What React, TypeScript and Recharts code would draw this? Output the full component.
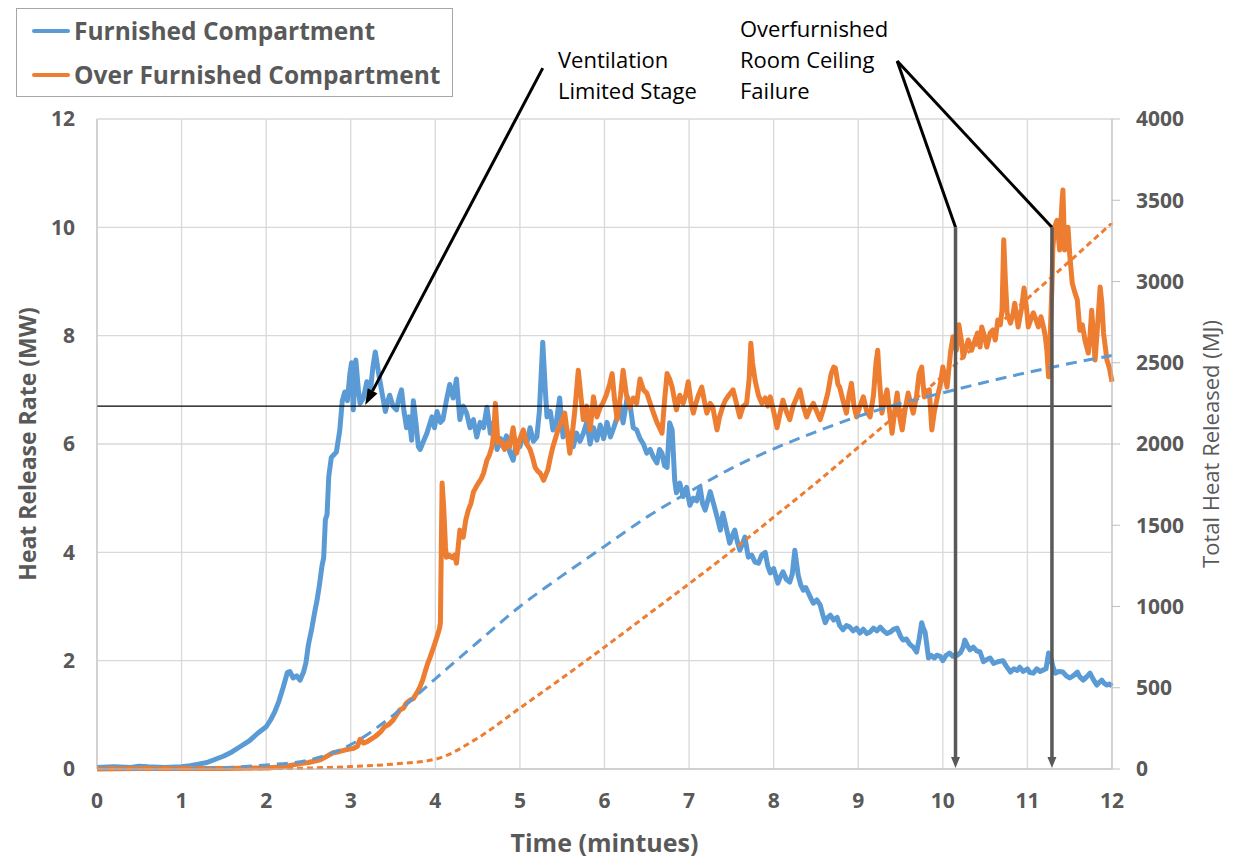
import React from 'react';
import {
  ComposedChart,
  Line,
  XAxis,
  YAxis,
  CartesianGrid,
  ReferenceLine,
  Label,
} from 'recharts';

const BLUE = '#5B9BD5';
const ORANGE = '#ED7D31';
const TEXT = '#595959';
const GRID = '#D9D9D9';
const AXIS = '#BFBFBF';
const FONT = '"Open Sans", "Liberation Sans", sans-serif';

const minuteTicks = [0, 1, 2, 3, 4, 5, 6, 7, 8, 9, 10, 11, 12];
const hrrTicks = [0, 2, 4, 6, 8, 10, 12];
const mjTicks = [0, 500, 1000, 1500, 2000, 2500, 3000, 3500, 4000];

const legendItems = [
  { name: 'Furnished Compartment', color: BLUE },
  { name: 'Over Furnished Compartment', color: ORANGE },
];

// heat release rate, [minutes, MW]
const furnishedHrr: [number, number][] = [
  [0, 0.03], [0.2, 0.04], [0.4, 0.03], [0.5, 0.05], [0.6, 0.04], [0.8, 0.03], [1.0, 0.04], [1.1, 0.06],
  [1.2, 0.09], [1.3, 0.12], [1.4, 0.18], [1.5, 0.24], [1.6, 0.32], [1.7, 0.42], [1.8, 0.52], [1.9, 0.66],
  [2.0, 0.78], [2.05, 0.9], [2.1, 1.05], [2.15, 1.25], [2.2, 1.5], [2.25, 1.78], [2.28, 1.8], [2.32, 1.68],
  [2.36, 1.72], [2.4, 1.64], [2.44, 1.78], [2.47, 1.96], [2.5, 2.3], [2.54, 2.6], [2.58, 2.95], [2.6, 3.1],
  [2.63, 3.4], [2.66, 3.75], [2.68, 3.9], [2.7, 4.6], [2.72, 4.7], [2.74, 5.4], [2.77, 5.75], [2.8, 5.8],
  [2.83, 5.85], [2.87, 6.25], [2.9, 6.8], [2.93, 6.96], [2.96, 6.8], [2.99, 7.3], [3.01, 7.5], [3.03, 6.63],
  [3.06, 7.55], [3.09, 7.0], [3.11, 6.75], [3.15, 6.85], [3.19, 7.15], [3.23, 6.94], [3.26, 7.4], [3.29, 7.7],
  [3.33, 7.3], [3.37, 6.94], [3.41, 6.6], [3.44, 6.8], [3.46, 6.9], [3.5, 6.7], [3.54, 6.63], [3.57, 6.85],
  [3.6, 7.0], [3.63, 6.6], [3.66, 6.3], [3.69, 6.5], [3.72, 6.07], [3.74, 6.8], [3.77, 6.4], [3.8, 5.95],
  [3.82, 5.9], [3.86, 6.05], [3.9, 6.2], [3.93, 6.35], [3.96, 6.5], [3.99, 6.3], [4.02, 6.6], [4.06, 6.4],
  [4.09, 6.45], [4.13, 6.8], [4.17, 7.1], [4.21, 6.85], [4.25, 7.2], [4.29, 6.45], [4.33, 6.7], [4.37, 6.57],
  [4.41, 6.3], [4.45, 6.45], [4.49, 6.13], [4.53, 6.4], [4.57, 6.3], [4.61, 6.68], [4.65, 6.2], [4.69, 6.4],
  [4.73, 5.9], [4.77, 6.1], [4.8, 5.95], [4.84, 6.15], [4.88, 5.85], [4.92, 5.7], [4.96, 6.05], [5.0, 5.95],
  [5.04, 6.2], [5.08, 6.0], [5.12, 6.3], [5.16, 6.05], [5.2, 6.13], [5.23, 6.6], [5.27, 7.88], [5.3, 7.0],
  [5.32, 6.5], [5.36, 6.6], [5.39, 6.26], [5.43, 6.4], [5.47, 6.85], [5.51, 6.13], [5.55, 6.3], [5.59, 6.0],
  [5.63, 5.95], [5.67, 6.2], [5.71, 6.05], [5.75, 6.2], [5.79, 6.4], [5.83, 6.0], [5.87, 6.3], [5.91, 6.07],
  [5.95, 6.35], [5.99, 6.1], [6.03, 6.4], [6.07, 6.13], [6.11, 6.3], [6.15, 6.5], [6.18, 6.75], [6.22, 6.39],
  [6.27, 6.87], [6.3, 6.75], [6.34, 6.3], [6.38, 6.26], [6.42, 6.1], [6.46, 6.0], [6.5, 5.83], [6.54, 5.9],
  [6.58, 5.75], [6.62, 5.65], [6.65, 5.9], [6.68, 5.83], [6.71, 5.6], [6.74, 5.57], [6.77, 6.39], [6.8, 6.26],
  [6.83, 5.33], [6.85, 5.1], [6.89, 5.28], [6.93, 5.03], [6.97, 5.2], [7.01, 4.87], [7.05, 5.0], [7.09, 4.95],
  [7.13, 5.2], [7.16, 4.9], [7.19, 4.78], [7.22, 4.95], [7.25, 5.12], [7.28, 4.95], [7.31, 4.78], [7.34, 4.6],
  [7.37, 4.41], [7.4, 4.72], [7.44, 4.45], [7.48, 4.17], [7.51, 4.3], [7.54, 4.41], [7.57, 4.2], [7.6, 4.04],
  [7.63, 4.15], [7.66, 4.28], [7.7, 3.91], [7.74, 3.95], [7.78, 3.82], [7.82, 3.8], [7.86, 3.95], [7.9, 4.0],
  [7.93, 3.75], [7.96, 3.62], [8.0, 3.7], [8.05, 3.43], [8.08, 3.55], [8.11, 3.64], [8.15, 3.5], [8.19, 3.45],
  [8.22, 3.6], [8.25, 4.04], [8.29, 3.58], [8.32, 3.4], [8.35, 3.3], [8.38, 3.35], [8.41, 3.25], [8.44, 3.15],
  [8.47, 3.06], [8.51, 3.12], [8.55, 3.03], [8.58, 2.85], [8.61, 2.7], [8.64, 2.8], [8.67, 2.84], [8.71, 2.75],
  [8.75, 2.8], [8.78, 2.65], [8.82, 2.57], [8.86, 2.65], [8.9, 2.62], [8.94, 2.55], [8.98, 2.6], [9.02, 2.51],
  [9.06, 2.58], [9.1, 2.5], [9.14, 2.53], [9.18, 2.6], [9.22, 2.55], [9.26, 2.62], [9.3, 2.55], [9.34, 2.5],
  [9.38, 2.53], [9.42, 2.58], [9.46, 2.6], [9.5, 2.45], [9.53, 2.38], [9.57, 2.4], [9.61, 2.3], [9.65, 2.25],
  [9.69, 2.16], [9.72, 2.4], [9.75, 2.7], [9.77, 2.6], [9.79, 2.53], [9.81, 2.3], [9.83, 2.05], [9.86, 2.1],
  [9.9, 2.05], [9.93, 2.1], [9.97, 2.08], [10.0, 2.0], [10.04, 2.1], [10.08, 2.14], [10.12, 2.08], [10.17, 2.1],
  [10.21, 2.15], [10.24, 2.25], [10.26, 2.38], [10.29, 2.28], [10.32, 2.2], [10.36, 2.25], [10.4, 2.18], [10.44, 2.16],
  [10.48, 1.98], [10.52, 2.02], [10.56, 2.05], [10.6, 1.95], [10.65, 1.98], [10.71, 2.0], [10.75, 1.9], [10.8, 1.79],
  [10.84, 1.85], [10.88, 1.82], [10.91, 1.88], [10.95, 1.8], [11.0, 1.85], [11.03, 1.78], [11.07, 1.77], [11.11, 1.85],
  [11.15, 1.8], [11.19, 1.83], [11.22, 1.85], [11.25, 2.14], [11.27, 2.1], [11.3, 1.9], [11.33, 1.77], [11.37, 1.8],
  [11.42, 1.79], [11.46, 1.72], [11.5, 1.68], [11.54, 1.72], [11.59, 1.79], [11.62, 1.7], [11.66, 1.64], [11.7, 1.7],
  [11.74, 1.77], [11.78, 1.65], [11.82, 1.55], [11.85, 1.6], [11.88, 1.64], [11.91, 1.58], [11.94, 1.55], [11.97, 1.57],
  [12.0, 1.53],
];

const overFurnishedHrr: [number, number][] = [
  [0, 0.0], [0.5, 0.01], [1, 0.01], [1.5, 0.01], [2, 0.02], [2.2, 0.04], [2.4, 0.1], [2.5, 0.12],
  [2.64, 0.17], [2.7, 0.22], [2.79, 0.3], [2.86, 0.32], [2.93, 0.35], [3.03, 0.38], [3.08, 0.42], [3.11, 0.55],
  [3.15, 0.48], [3.19, 0.5], [3.24, 0.55], [3.29, 0.6], [3.35, 0.68], [3.4, 0.78], [3.45, 0.82], [3.5, 0.9],
  [3.54, 1.0], [3.58, 1.09], [3.62, 1.12], [3.66, 1.22], [3.7, 1.27], [3.74, 1.3], [3.78, 1.4], [3.82, 1.52],
  [3.85, 1.64], [3.88, 1.8], [3.91, 1.95], [3.94, 2.07], [3.98, 2.25], [4.02, 2.44], [4.05, 2.6], [4.06, 2.7],
  [4.07, 4.0], [4.08, 5.28], [4.1, 4.8], [4.12, 4.1], [4.13, 3.91], [4.16, 3.95], [4.2, 3.9], [4.23, 3.95],
  [4.25, 3.8], [4.27, 4.1], [4.29, 4.41], [4.31, 4.35], [4.33, 4.28], [4.36, 4.6], [4.39, 4.78], [4.42, 4.9],
  [4.45, 5.11], [4.48, 5.2], [4.51, 5.28], [4.54, 5.35], [4.57, 5.46], [4.61, 5.7], [4.64, 5.8], [4.67, 5.95],
  [4.69, 6.2], [4.71, 6.75], [4.74, 6.02], [4.78, 6.05], [4.82, 5.9], [4.85, 6.02], [4.88, 5.95], [4.92, 6.3],
  [4.96, 5.83], [5.0, 6.1], [5.04, 6.26], [5.08, 6.0], [5.12, 5.9], [5.15, 5.75], [5.18, 5.57], [5.21, 5.5],
  [5.24, 5.46], [5.28, 5.33], [5.31, 5.45], [5.33, 5.52], [5.36, 5.75], [5.39, 5.95], [5.42, 6.1], [5.45, 6.26],
  [5.49, 6.4], [5.53, 6.57], [5.56, 6.2], [5.59, 5.83], [5.62, 6.2], [5.65, 6.63], [5.69, 7.36], [5.72, 6.9],
  [5.75, 6.45], [5.79, 6.7], [5.83, 6.26], [5.87, 6.87], [5.91, 6.5], [5.95, 6.68], [5.98, 6.75], [6.02, 6.9],
  [6.06, 7.1], [6.09, 7.3], [6.12, 6.8], [6.15, 6.45], [6.19, 6.9], [6.22, 7.36], [6.26, 6.9], [6.3, 6.68],
  [6.34, 6.85], [6.38, 6.75], [6.42, 7.2], [6.46, 7.0], [6.5, 6.94], [6.54, 6.75], [6.58, 6.57], [6.62, 6.4],
  [6.65, 6.3], [6.68, 6.2], [6.71, 6.8], [6.74, 7.3], [6.77, 7.2], [6.8, 7.05], [6.83, 6.8], [6.85, 6.63],
  [6.89, 6.9], [6.93, 6.75], [6.96, 6.9], [6.99, 7.15], [7.02, 6.8], [7.05, 6.57], [7.08, 6.75], [7.11, 6.9],
  [7.15, 7.05], [7.18, 6.8], [7.21, 6.57], [7.25, 6.75], [7.28, 6.68], [7.33, 6.26], [7.36, 6.5], [7.4, 6.7],
  [7.43, 6.81], [7.47, 6.9], [7.52, 7.0], [7.56, 6.75], [7.6, 6.5], [7.64, 6.7], [7.68, 6.75], [7.71, 7.2],
  [7.73, 7.86], [7.75, 7.5], [7.78, 7.18], [7.82, 6.9], [7.86, 6.75], [7.9, 6.85], [7.93, 6.7], [7.96, 6.87],
  [8.0, 6.6], [8.04, 6.3], [8.08, 6.6], [8.11, 6.81], [8.15, 6.6], [8.19, 6.45], [8.23, 6.7], [8.27, 6.85],
  [8.31, 7.0], [8.35, 6.7], [8.39, 6.5], [8.43, 6.65], [8.47, 6.75], [8.51, 6.6], [8.55, 6.45], [8.6, 6.7],
  [8.64, 6.94], [8.68, 7.3], [8.71, 7.42], [8.73, 7.4], [8.76, 7.1], [8.78, 7.05], [8.82, 6.8], [8.86, 6.57],
  [8.89, 6.9], [8.92, 7.12], [8.95, 6.7], [8.98, 6.5], [9.02, 6.7], [9.06, 6.87], [9.1, 6.6], [9.14, 6.5],
  [9.18, 6.9], [9.21, 7.5], [9.23, 7.73], [9.25, 7.2], [9.28, 6.57], [9.31, 6.8], [9.34, 7.0], [9.37, 6.6],
  [9.4, 6.2], [9.43, 6.6], [9.46, 6.94], [9.49, 6.5], [9.52, 6.26], [9.55, 6.6], [9.59, 6.94], [9.62, 6.75],
  [9.65, 6.57], [9.69, 6.9], [9.72, 7.3], [9.75, 7.42], [9.78, 6.87], [9.81, 6.9], [9.84, 7.0], [9.87, 6.26],
  [9.9, 6.6], [9.94, 6.9], [9.97, 7.1], [10.0, 7.42], [10.03, 7.2], [10.05, 7.05], [10.09, 7.68], [10.12, 7.98],
  [10.16, 7.73], [10.19, 8.2], [10.22, 7.9], [10.24, 7.6], [10.27, 7.75], [10.3, 7.92], [10.34, 7.73], [10.38, 7.92],
  [10.41, 8.05], [10.44, 7.79], [10.46, 8.16], [10.49, 8.0], [10.52, 7.79], [10.56, 8.05], [10.59, 8.1], [10.62, 7.92],
  [10.65, 8.29], [10.68, 8.2], [10.7, 8.47], [10.72, 9.77], [10.74, 9.0], [10.76, 8.42], [10.8, 8.23], [10.83, 8.4],
  [10.85, 8.6], [10.89, 8.16], [10.93, 8.5], [10.96, 8.88], [10.99, 8.5], [11.01, 8.16], [11.04, 8.3], [11.07, 8.42],
  [11.1, 8.3], [11.13, 8.16], [11.16, 8.35], [11.19, 8.16], [11.21, 8.0], [11.23, 7.73], [11.25, 7.24], [11.27, 8.0],
  [11.29, 8.9], [11.3, 9.6], [11.32, 10.0], [11.35, 10.13], [11.38, 9.58], [11.41, 10.5], [11.42, 10.69], [11.44, 9.58],
  [11.46, 9.8], [11.48, 10.0], [11.5, 9.5], [11.53, 8.97], [11.56, 8.8], [11.59, 8.66], [11.62, 8.1], [11.65, 8.2],
  [11.68, 7.92], [11.72, 7.68], [11.74, 8.0], [11.76, 8.47], [11.78, 8.0], [11.8, 7.55], [11.83, 8.2], [11.86, 8.9],
  [11.88, 8.6], [11.9, 8.05], [11.92, 7.8], [11.94, 7.55], [11.97, 7.4], [12.0, 7.15],
];

// total heat released, [minutes, MJ]
const furnishedThr: [number, number][] = [
  [0, 0], [1, 2], [1.5, 8], [2, 25], [2.5, 55], [3, 150], [3.5, 330], [4, 555], [4.5, 780],
  [5, 1000], [5.5, 1190], [6, 1370], [6.5, 1550], [7, 1705], [7.5, 1850], [8, 1970], [8.5, 2075],
  [9, 2170], [9.5, 2250], [10, 2315], [10.5, 2380], [11, 2440], [11.5, 2495], [12, 2545],
];

const overFurnishedThr: [number, number][] = [
  [0, 0], [1, 0], [2, 2], [2.5, 6], [3, 15], [3.5, 30], [4, 60], [4.5, 190], [5, 375],
  [5.5, 560], [6, 750], [6.5, 945], [7, 1140], [7.5, 1340], [8, 1550], [8.5, 1760], [9, 1980],
  [9.5, 2200], [10, 2420], [10.5, 2660], [11, 2895], [11.5, 3125], [12, 3360],
];

// annotation anchors (minutes, MW)
const ventLimitLevel = 6.7;
const ventArrow = [{ x: 5.27, y: 12.94 }, { x: 3.17, y: 6.72 }];
const ceilingLeaderA = [{ x: 9.46, y: 13.07 }, { x: 10.15, y: 10 }];
const ceilingLeaderB = [{ x: 9.46, y: 13.07 }, { x: 11.29, y: 10 }];
const ceilingDropA = [{ x: 10.15, y: 10 }, { x: 10.15, y: 0.02 }];
const ceilingDropB = [{ x: 11.29, y: 10 }, { x: 11.29, y: 0.02 }];

const toRows = (pairs: [number, number][]) => pairs.map(([t, v]) => ({ t, v }));

const arrowShape = (len: number, wid: number) => (p: any) => {
  const x1 = Number(p.x1), y1 = Number(p.y1), x2 = Number(p.x2), y2 = Number(p.y2);
  const dx = x2 - x1;
  const dy = y2 - y1;
  const d = Math.hypot(dx, dy) || 1;
  const ux = dx / d;
  const uy = dy / d;
  const bx = x2 - ux * len;
  const by = y2 - uy * len;
  const px = (-uy * wid) / 2;
  const py = (ux * wid) / 2;
  return (
    <g>
      <line x1={x1} y1={y1} x2={bx} y2={by} stroke={p.stroke} strokeWidth={p.strokeWidth} />
      <polygon
        points={`${x2},${y2} ${bx + px},${by + py} ${bx - px},${by - py}`}
        fill={p.stroke}
      />
    </g>
  );
};

const tickStyle = { fill: TEXT, fontSize: 21, fontWeight: 700, fontFamily: FONT };

export default function App() {
  return (
    <div style={{ position: 'absolute', left: 0, top: 0, width: 1235, height: 858, background: '#fff' }}>
      <ComposedChart
        width={1235}
        height={858}
        margin={{ top: 119, right: 0, bottom: 0, left: 0 }}
      >
        <CartesianGrid yAxisId="left" stroke={GRID} strokeWidth={1.3} />
        <XAxis
          dataKey="t"
          type="number"
          domain={[0, 12]}
          ticks={minuteTicks}
          height={89}
          stroke={AXIS}
          tickLine={false}
          tickSize={8}
          tickMargin={16}
          tick={tickStyle}
          allowDuplicatedCategory={false}
        >
          <Label
            value="Time (mintues)"
            position="center"
            dy={30}
            fill={TEXT}
            fontSize={25}
            fontWeight={700}
            fontFamily={FONT}
          />
        </XAxis>
        <YAxis
          yAxisId="left"
          domain={[0, 12]}
          ticks={hrrTicks}
          width={97}
          stroke={AXIS}
          tickLine={false}
          tickSize={8}
          tickMargin={14}
          tick={tickStyle}
        >
          <Label
            value="Heat Release Rate (MW)"
            angle={-90}
            position="center"
            dx={-21}
            fill={TEXT}
            fontSize={23}
            fontWeight={700}
            fontFamily={FONT}
          />
        </YAxis>
        <YAxis
          yAxisId="right"
          orientation="right"
          domain={[0, 4000]}
          ticks={mjTicks}
          width={123}
          stroke={AXIS}
          tickSize={8}
          tickMargin={16}
          tick={tickStyle}
        >
          <Label
            value="Total Heat Released (MJ)"
            angle={-90}
            position="center"
            dx={38}
            fill={TEXT}
            fontSize={22}
            fontFamily={FONT}
          />
        </YAxis>

        <Line
          yAxisId="left"
          data={toRows(furnishedHrr)}
          dataKey="v"
          type="linear"
          stroke={BLUE}
          strokeWidth={5}
          strokeLinejoin="round"
          dot={false}
          isAnimationActive={false}
        />
        <Line
          yAxisId="left"
          data={toRows(overFurnishedHrr)}
          dataKey="v"
          type="linear"
          stroke={ORANGE}
          strokeWidth={5}
          strokeLinejoin="round"
          dot={false}
          isAnimationActive={false}
        />
        <Line
          yAxisId="right"
          data={toRows(furnishedThr)}
          dataKey="v"
          type="monotone"
          stroke={BLUE}
          strokeWidth={3}
          strokeDasharray="11 7"
          dot={false}
          isAnimationActive={false}
        />
        <Line
          yAxisId="right"
          data={toRows(overFurnishedThr)}
          dataKey="v"
          type="monotone"
          stroke={ORANGE}
          strokeWidth={3}
          strokeDasharray="6 4"
          dot={false}
          isAnimationActive={false}
        />

        <ReferenceLine yAxisId="left" y={ventLimitLevel} stroke="#000" strokeWidth={1.3} />
        <ReferenceLine
          yAxisId="left"
          segment={ventArrow}
          ifOverflow="visible"
          stroke="#000"
          strokeWidth={3}
          shape={arrowShape(16, 11)}
        />
        <ReferenceLine yAxisId="left" segment={ceilingLeaderA} ifOverflow="visible" stroke="#000" strokeWidth={3} />
        <ReferenceLine yAxisId="left" segment={ceilingLeaderB} ifOverflow="visible" stroke="#000" strokeWidth={3} />
        <ReferenceLine
          yAxisId="left"
          segment={ceilingDropA}
          ifOverflow="visible"
          stroke="#595959"
          strokeWidth={3.5}
          shape={arrowShape(11, 9)}
        />
        <ReferenceLine
          yAxisId="left"
          segment={ceilingDropB}
          ifOverflow="visible"
          stroke="#595959"
          strokeWidth={3.5}
          shape={arrowShape(11, 9)}
        />
      </ComposedChart>

      {/* legend box */}
      <div
        style={{
          position: 'absolute',
          left: 16,
          top: 8,
          width: 437,
          height: 89,
          boxSizing: 'border-box',
          border: '1.5px solid #A6A6A6',
          background: '#fff',
          fontFamily: FONT,
        }}
      >
        {legendItems.map((item, i) => (
          <div
            key={item.name}
            style={{
              position: 'absolute',
              left: 15,
              top: 6 + i * 44,
              height: 32,
              display: 'flex',
              alignItems: 'center',
              whiteSpace: 'nowrap',
            }}
          >
            <span style={{ display: 'inline-block', width: 38, height: 4, background: item.color, borderRadius: 2 }} />
            <span style={{ marginLeft: 4, fontSize: 24.5, fontWeight: 700, color: TEXT, lineHeight: '32px' }}>
              {item.name}
            </span>
          </div>
        ))}
      </div>

      {/* annotation texts */}
      <div
        style={{
          position: 'absolute',
          left: 558,
          top: 44,
          fontFamily: FONT,
          fontSize: 22,
          lineHeight: '31px',
          color: '#000',
          whiteSpace: 'nowrap',
        }}
      >
        Ventilation
        <br />
        Limited Stage
      </div>
      <div
        style={{
          position: 'absolute',
          left: 740,
          top: 13,
          fontFamily: FONT,
          fontSize: 22,
          lineHeight: '31px',
          color: '#000',
          whiteSpace: 'nowrap',
        }}
      >
        Overfurnished
        <br />
        Room Ceiling
        <br />
        Failure
      </div>
    </div>
  );
}
